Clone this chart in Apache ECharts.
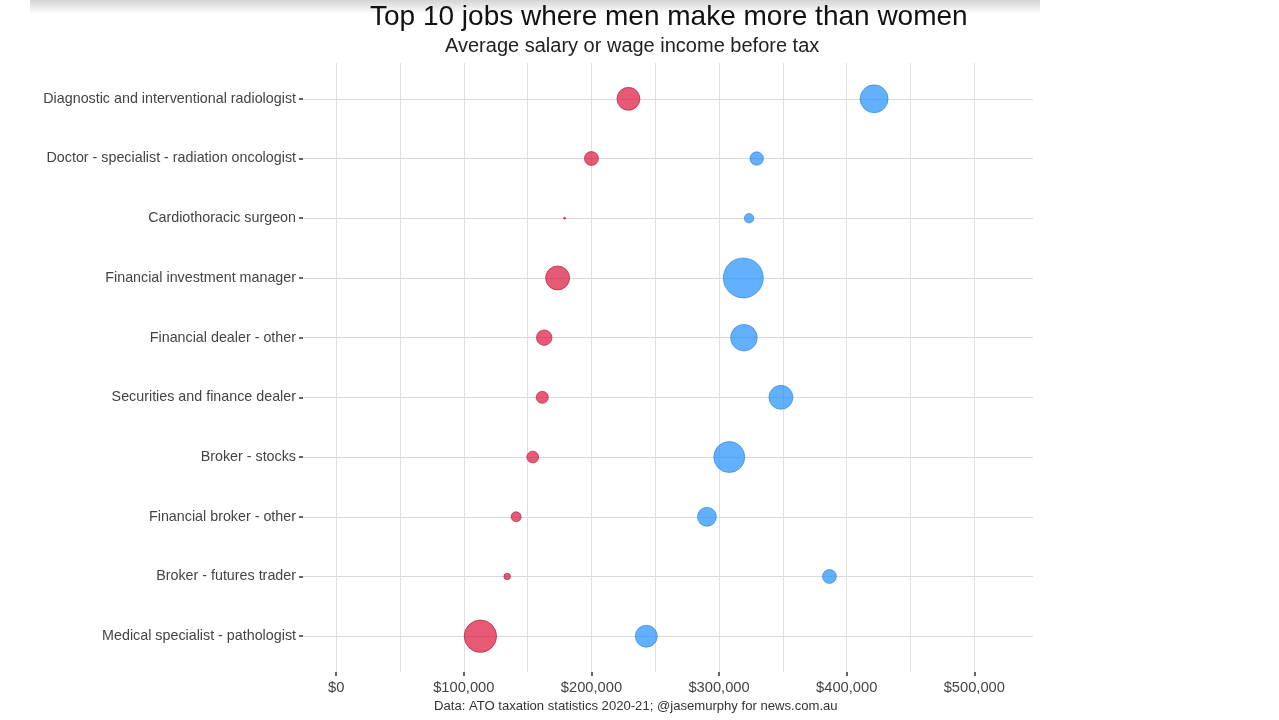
<!DOCTYPE html>
<html>
<head>
<meta charset="utf-8">
<script src="https://cdn.jsdelivr.net/npm/echarts@6/dist/echarts.min.js"></script>
<style>
html,body{margin:0;padding:0;background:#fff;}
#chart{width:1279px;height:720px;}
</style>
</head>
<body>
<div id="chart"></div>
<script>
// ---- data ----
const jobs = [
  'Diagnostic and interventional radiologist',
  'Doctor - specialist - radiation oncologist',
  'Cardiothoracic surgeon',
  'Financial investment manager',
  'Financial dealer - other',
  'Securities and finance dealer',
  'Broker - stocks',
  'Financial broker - other',
  'Broker - futures trader',
  'Medical specialist - pathologist'
];
const womenIncome = [229000, 200000, 179000, 173500, 163000, 161500, 154000, 141000, 134000, 113000];
const menIncome   = [421500, 329500, 323500, 319000, 319500, 348500, 308000, 290500, 386500, 243000];
// estimated number of earners (drives bubble area)
const womenCount = [2100, 780, 16, 2300, 960, 580, 560, 400, 170, 4200];
const menCount   = [3140, 730, 360, 6400, 2800, 2300, 3850, 1440, 780, 1940];
const xTickValues = [0, 100000, 200000, 300000, 400000, 500000];

const fmtMoney = v => '$' + Math.round(v).toString().replace(/\B(?=(\d{3})+(?!\d))/g, ',');
const sizeOf = c => Math.sqrt(c) * 0.5;

const chart = echarts.init(document.getElementById('chart'), null, {renderer: 'canvas'});
const rowIdx = jobs.map((_, i) => i);
const FONT = 'Liberation Sans, Arial, sans-serif';

const option = {
  backgroundColor: '#ffffff',
  animation: false,
  graphic: [{
    type: 'rect', left: 30, top: 0, z: -10,
    shape: {width: 1010, height: 14},
    style: {fill: new echarts.graphic.LinearGradient(0, 0, 0, 1, [
      {offset: 0, color: '#d4d4d4'}, {offset: 1, color: '#ffffff'}
    ])}
  }],
  title: [
    {text: 'Top 10 jobs where men make more than women', left: 365, top: -2,
     textStyle: {fontFamily: FONT, fontSize: 28, fontWeight: 'normal', color: '#111'}},
    {text: 'Average salary or wage income before tax', left: 440, top: 31,
     textStyle: {fontFamily: FONT, fontSize: 20, fontWeight: 'normal', color: '#222'}},
    {text: 'Data: ATO taxation statistics 2020-21; @jasemurphy for news.com.au', left: 429, top: 695,
     textStyle: {fontFamily: FONT, fontSize: 13.1, fontWeight: 'normal', color: '#333'}}
  ],
  grid: {left: 303, right: 246, top: 63, bottom: 48, containLabel: false},
  xAxis: [{
    type: 'value', min: -26000, max: 546000, minInterval: 50000, maxInterval: 50000,
    axisLine: {show: false, onZero: false}, axisTick: {show: false},
    axisLabel: {customValues: xTickValues, formatter: fmtMoney, color: '#444', fontSize: 14.7,
      fontFamily: FONT, margin: 8},
    splitLine: {show: true, showMinLine: false, showMaxLine: false, lineStyle: {color: '#e0e0e0', width: 1}}
  }, {
    type: 'value', min: -26000, max: 546000, position: 'bottom',
    axisLine: {show: false, onZero: false},
    axisTick: {show: true, customValues: xTickValues, length: 4, lineStyle: {color: '#333', width: 1.5}},
    axisLabel: {show: false}, splitLine: {show: false}
  }],
  yAxis: {
    type: 'value', inverse: true, min: -0.6, max: 9.6, minInterval: 1, maxInterval: 1,
    axisLine: {show: false, onZero: false},
    axisTick: {show: true, customValues: rowIdx, length: 4, lineStyle: {color: '#333', width: 1.5}},
    axisLabel: {customValues: rowIdx, formatter: v => jobs[Math.round(v)] || '', color: '#444', fontSize: 14.3,
      fontFamily: FONT, margin: 7},
    splitLine: {show: true, lineStyle: {color: '#d9d9d9', width: 1}}
  },
  series: [{
    name: 'Women', type: 'scatter',
    data: womenIncome.map((v, i) => [v, i]),
    symbolSize: (val, p) => sizeOf(womenCount[p.dataIndex]),
    itemStyle: {color: 'rgba(220,20,60,0.7)', borderColor: 'rgba(170,20,50,0.6)', borderWidth: 1, opacity: 1}
  }, {
    name: 'Men', type: 'scatter',
    data: menIncome.map((v, i) => [v, i]),
    symbolSize: (val, p) => sizeOf(menCount[p.dataIndex]),
    itemStyle: {color: 'rgba(30,144,255,0.7)', borderColor: 'rgba(30,110,200,0.5)', borderWidth: 1, opacity: 1}
  }]
};
chart.setOption(option);
</script>
</body>
</html>
